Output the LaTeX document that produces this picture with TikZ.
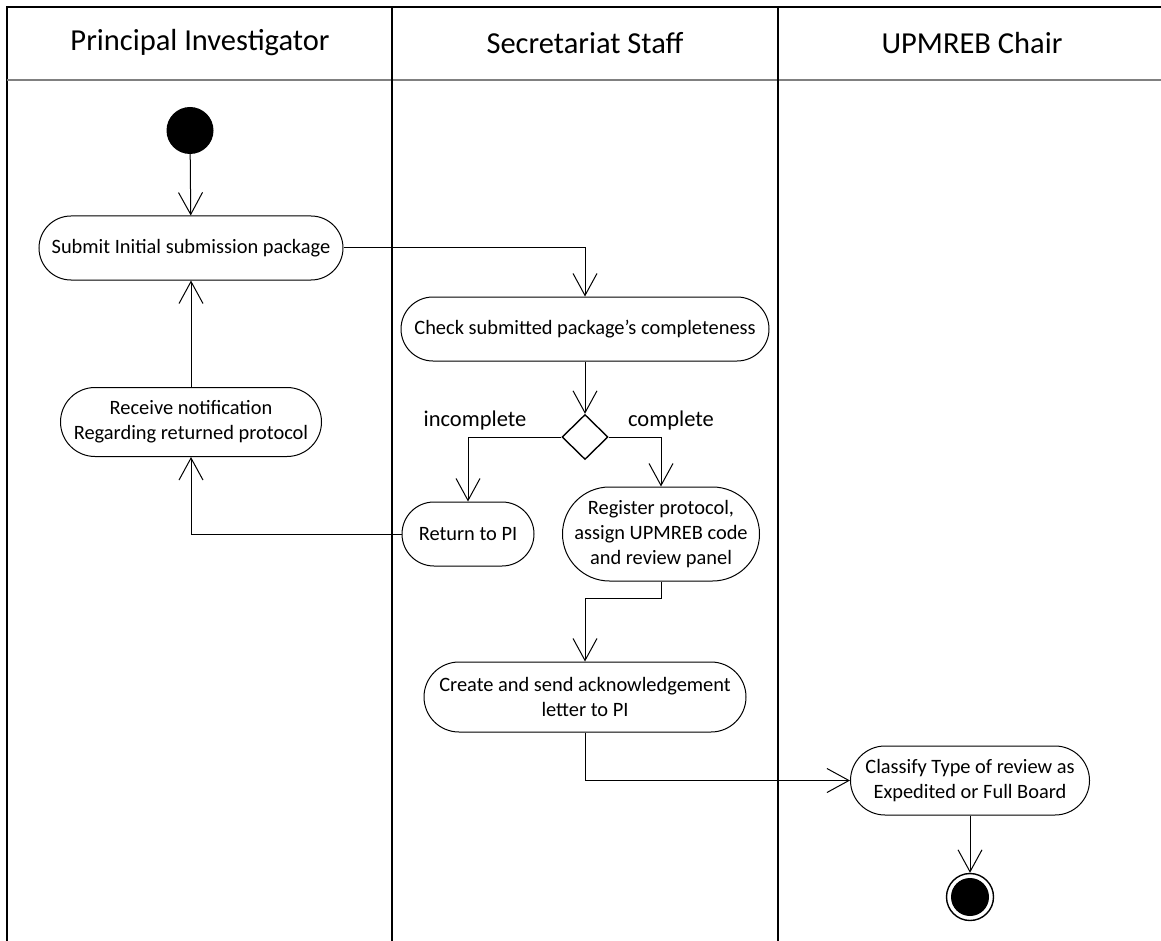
\documentclass[tikz,border=0pt]{standalone}
\usepackage{fontspec}
\setmainfont{Carlito}
\usetikzlibrary{arrows.meta,shapes.geometric}
\begin{document}
\begin{tikzpicture}[x=1pt,y=-1pt,
  act/.style={draw, line width=1pt, rounded corners=#1, inner sep=0pt, align=center, fill=white,
    font=\fontsize{20.4}{25}\selectfont},
  flow/.style={line width=1pt, -{Straight Barb[length=22pt,width=24pt,line width=1pt]}},
  lane/.style={line width=2.5pt},
  head/.style={font=\fontsize{30.5}{35}\selectfont},
  guard/.style={font=\fontsize{22.5}{26}\selectfont}
]
\useasboundingbox (0,0) rectangle (1161,941);
% swimlanes
\draw[lane] (7,941) -- (7,7) -- (1161,7);
\draw[gray, line width=1.6pt] (7,80) -- (1161,80);
\draw[lane] (392,7) -- (392,941);
\draw[lane] (778,7) -- (778,941);
\node[head] (h1) at (200,43) {Principal Investigator};
\node[head] (h2) at (585,43) {Secretariat Staff};
\node[head] (h3) at (972,43) {UPMREB Chair};
% nodes
\node[circle, fill, minimum size=47pt, inner sep=0pt] (start) at (190,130.5) {};
\node[act=32pt, minimum width=304pt, minimum height=64pt] (submit) at (191,248) {Submit Initial submission package};
\node[act=34.5pt, minimum width=261pt, minimum height=69pt] (recv) at (191,422) {Receive notification\\Regarding returned protocol};
\node[act=32pt, minimum width=368pt, minimum height=64pt] (check) at (585,329) {Check submitted package’s completeness};
\node[diamond, draw, line width=1.4pt, minimum width=46pt, minimum height=45pt, inner sep=0pt] (dec) at (585,437) {};
\node[act=32pt, minimum width=132pt, minimum height=64pt] (ret) at (468,534) {Return to PI};
\node[act=47pt, minimum width=197pt, minimum height=94pt] (reg) at (661,534) {Register protocol,\\assign UPMREB code\\and review panel};
\node[act=35pt, minimum width=322pt, minimum height=70pt] (create) at (585,697) {Create and send acknowledgement\\letter to PI};
\node[act=34.5pt, minimum width=239pt, minimum height=69pt] (class) at (970,780.5) {Classify Type of review as\\Expedited or Full Board};
\node[circle, draw, line width=1.4pt, minimum size=47pt, inner sep=0pt] (end) at (970,897) {};
\node[circle, fill, minimum size=38pt, inner sep=0pt] (endin) at (end.center) {};
\node[guard] (lincomp) at (475,420) {incomplete};
\node[guard] (lcomp) at (671,420) {complete};
% flows
\draw[flow] (start) -- (submit);
\draw[flow] (recv) -- (submit);
\draw[flow] (submit.east) -| (check.north);
\draw[flow] (check) -- (dec);
\draw[flow] (dec.west) -| (ret.north);
\draw[flow] (dec.east) -| (reg.north);
\draw[flow] (ret.west) -| (recv.south);
\draw[flow] (reg.south) -- ++(0,17) -| (create.north);
\draw[flow] (create.south) |- (class.west);
\draw[flow] (class) -- (end);
\end{tikzpicture}
\end{document}
